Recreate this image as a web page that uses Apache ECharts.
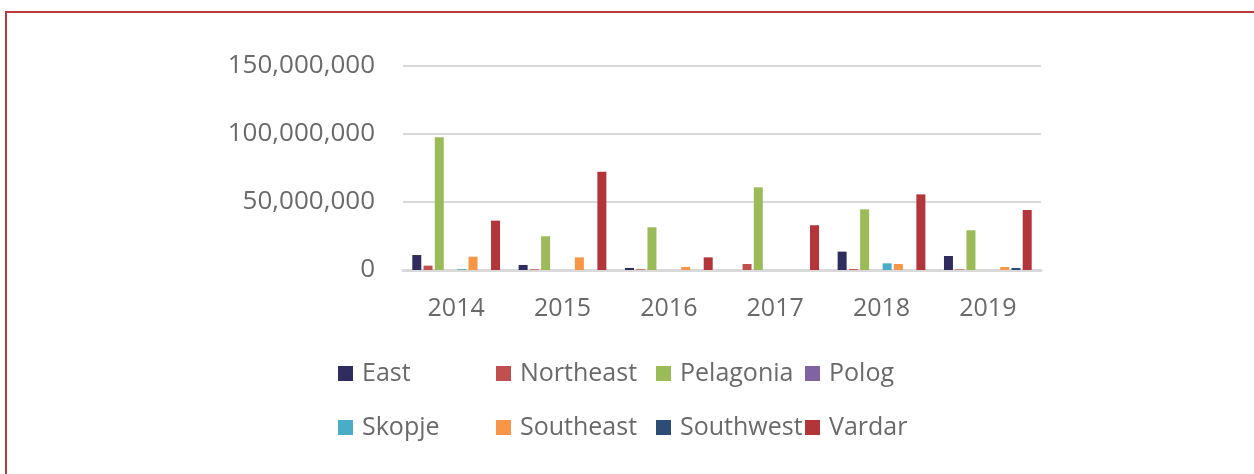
<!DOCTYPE html>
<html>
<head>
<meta charset="utf-8">
<script src="https://cdn.jsdelivr.net/npm/echarts@6/dist/echarts.min.js"></script>
<style>
  html, body { margin: 0; padding: 0; background: #fff; }
  #chart { width: 1254px; height: 474px; }
</style>
</head>
<body>
<div id="chart"></div>
<script>
// years on the category axis
var years = ['2014', '2015', '2016', '2017', '2018', '2019'];

// one array per region
var east      = [11000000, 3700000, 1500000, 0, 13500000, 10300000];
var northeast = [3200000, 500000, 500000, 4400000, 700000, 400000];
var pelagonia = [97600000, 24800000, 31400000, 60800000, 44600000, 29200000];
var polog     = [0, 0, 0, 0, 0, 0];
var skopje    = [600000, 0, 0, 0, 4900000, 0];
var southeast = [9800000, 9300000, 2200000, 0, 4400000, 2200000];
var southwest = [0, 0, 0, 0, 0, 1500000];
var vardar    = [36300000, 72300000, 9300000, 32900000, 55600000, 44100000];

var regions = ['East', 'Northeast', 'Pelagonia', 'Polog', 'Skopje', 'Southeast', 'Southwest', 'Vardar'];
var values = [east, northeast, pelagonia, polog, skopje, southeast, southwest, vardar];
var colors = ['#2e2d5e', '#c0504d', '#9bbb59', '#8064a2', '#4bacc6', '#f79646', '#2c4d75', '#b3353a'];

var font = '"Open Sans", "Noto Sans", sans-serif';
var textColor = '#6a6a6a';

// legend sits in a 4 x 2 grid, one legend per entry
var legendCols = [333, 491, 651, 800];
var legendRows = [356, 410];

var chart = echarts.init(document.getElementById('chart'));

var legends = regions.map(function (name, i) {
  return {
    data: [name],
    left: legendCols[i % 4],
    top: legendRows[Math.floor(i / 4)],
    itemWidth: 15,
    itemHeight: 15,
    icon: 'rect',
    selectedMode: false,
    textStyle: { fontFamily: font, fontSize: 25, color: textColor, padding: [0, 0, 0, 4] }
  };
});

var option = {
  animation: false,
  color: colors,
  graphic: [{
    type: 'rect',
    shape: { x: 6, y: 12, width: 1300, height: 520 },
    style: { fill: 'none', stroke: '#b83b3e', lineWidth: 2 },
    silent: true
  }],
  legend: legends,
  grid: { left: 403, right: 213, top: 66, bottom: 204 },
  xAxis: {
    type: 'category',
    data: years,
    axisLine: { lineStyle: { color: '#d9d9d9', width: 3 } },
    axisTick: { show: false },
    axisLabel: { fontFamily: font, fontSize: 25, color: textColor, margin: 26 }
  },
  yAxis: {
    type: 'value',
    min: 0,
    max: 150000000,
    interval: 50000000,
    axisLine: { show: false },
    axisTick: { show: false },
    splitLine: { lineStyle: { color: '#d9d9d9', width: 2 } },
    axisLabel: {
      fontFamily: font, fontSize: 26, color: textColor, margin: 28,
      formatter: function (v) { return v.toLocaleString('en-US'); }
    }
  },
  series: regions.map(function (name, i) {
    return {
      name: name,
      type: 'bar',
      data: values[i],
      barWidth: 9,
      barGap: '25%'
    };
  })
};

chart.setOption(option);
</script>
</body>
</html>
